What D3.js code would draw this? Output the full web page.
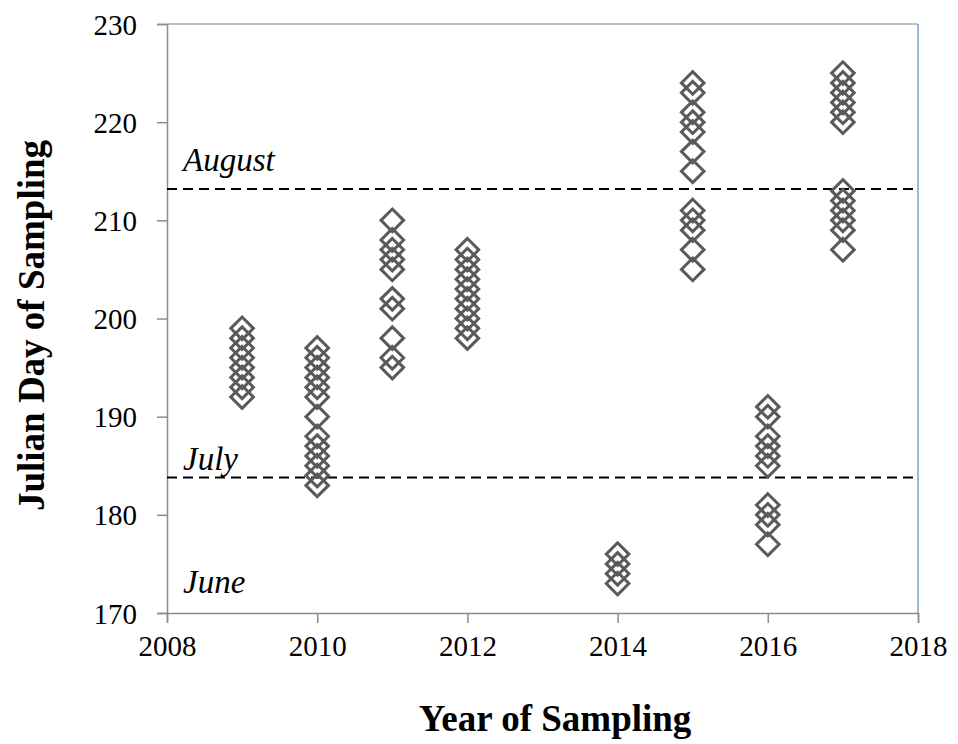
<!DOCTYPE html>
<html><head><meta charset="utf-8">
<script src="https://cdn.jsdelivr.net/npm/d3@7/dist/d3.min.js"></script>
<style>body{margin:0;background:#fff}svg{display:block}</style>
</head><body>
<script>
const years = [2009, 2010, 2011, 2012, 2014, 2015, 2016, 2017];
const days2009 = [192,193,194,195,196,197,198,199];
const days2010 = [183,184,185,186,187,188,190,192,193,194,195,196,197];
const days2011 = [195,196,198,201,202,205,206,207,208,210];
const days2012 = [198,199,200,201,202,203,204,205,206,207];
const days2014 = [173,174,175,176];
const days2015 = [205,207,209,210,211,215,217,219,220,221,223,224];
const days2016 = [177,179,180,181,185,186,187,188,190,191];
const days2017 = [207,209,210,211,212,213,220,221,222,223,224,225];
const daysByYear = [days2009, days2010, days2011, days2012, days2014, days2015, days2016, days2017];
const xTicks = [2008, 2010, 2012, 2014, 2016, 2018];
const yTicks = [170, 180, 190, 200, 210, 220, 230];
const monthNames = ["August", "July", "June"];
const monthLines = [213.2, 183.8, null];
const monthLabelDays = [215.0, 184.6, 172.0];

const W = 958, H = 744;
const m = {l:167, r:918, t:24, b:613};
const svg = d3.select("body").append("svg").attr("width", W).attr("height", H);
const x = d3.scaleLinear().domain([2008, 2018]).range([m.l, m.r]);
const y = d3.scaleLinear().domain([170, 230]).range([m.b, m.t]);

svg.append("line").attr("x1", m.l).attr("x2", m.r).attr("y1", m.t).attr("y2", m.t).attr("stroke", "#7088a8").attr("stroke-width", 1.2);
svg.append("line").attr("x1", m.r).attr("x2", m.r).attr("y1", m.t).attr("y2", m.b).attr("stroke", "#5b8ad0").attr("stroke-width", 1.2);

const font = "'Liberation Serif','Times New Roman',serif";
const xAxis = svg.append("g").attr("transform", `translate(0,${m.b})`)
  .call(d3.axisBottom(x).tickValues(xTicks).tickFormat(d3.format("d")).tickSize(10).tickPadding(12));
const yAxis = svg.append("g").attr("transform", `translate(${m.l},0)`)
  .call(d3.axisLeft(y).tickValues(yTicks).tickSize(10).tickPadding(20));
[xAxis, yAxis].forEach(g => {
  g.select(".domain").attr("stroke", "#8c8c8c").attr("stroke-width", 1.5);
  g.selectAll(".tick line").attr("stroke", "#8c8c8c").attr("stroke-width", 1.5);
  g.selectAll("text").attr("font-family", font).attr("font-size", 29).attr("fill", "#000");
});
yAxis.selectAll("text").attr("dy", "0.35em");

monthLines.forEach(v => {
  if (v === null) return;
  svg.append("line").attr("x1", m.l).attr("x2", m.r).attr("y1", y(v)).attr("y2", y(v))
    .attr("stroke", "#000").attr("stroke-width", 2).attr("stroke-dasharray", "10,6");
});
monthNames.forEach((n, i) => {
  svg.append("text").attr("x", m.l + 16).attr("y", y(monthLabelDays[i]))
    .attr("font-family", font).attr("font-style", "italic").attr("font-size", 33).text(n);
});

const pts = [];
years.forEach((yr, i) => daysByYear[i].forEach(d => pts.push({yr, d})));
const s = 11.3;
svg.append("g").selectAll("path").data(pts).join("path")
  .attr("d", p => `M${x(p.yr)},${y(p.d)-s}L${x(p.yr)+s},${y(p.d)}L${x(p.yr)},${y(p.d)+s}L${x(p.yr)-s},${y(p.d)}Z`)
  .attr("fill", "none").attr("stroke", "#5a5a5a").attr("stroke-width", 3);

svg.append("text").attr("x", 555).attr("y", 731).attr("text-anchor", "middle")
  .attr("font-family", font).attr("font-weight", "bold").attr("font-size", 37).text("Year of Sampling");
svg.append("text").attr("transform", `translate(44,${(m.t + m.b) / 2 + 7}) rotate(-90)`).attr("text-anchor", "middle")
  .attr("font-family", font).attr("font-weight", "bold").attr("font-size", 37).text("Julian Day of Sampling");
</script>
</body></html>
